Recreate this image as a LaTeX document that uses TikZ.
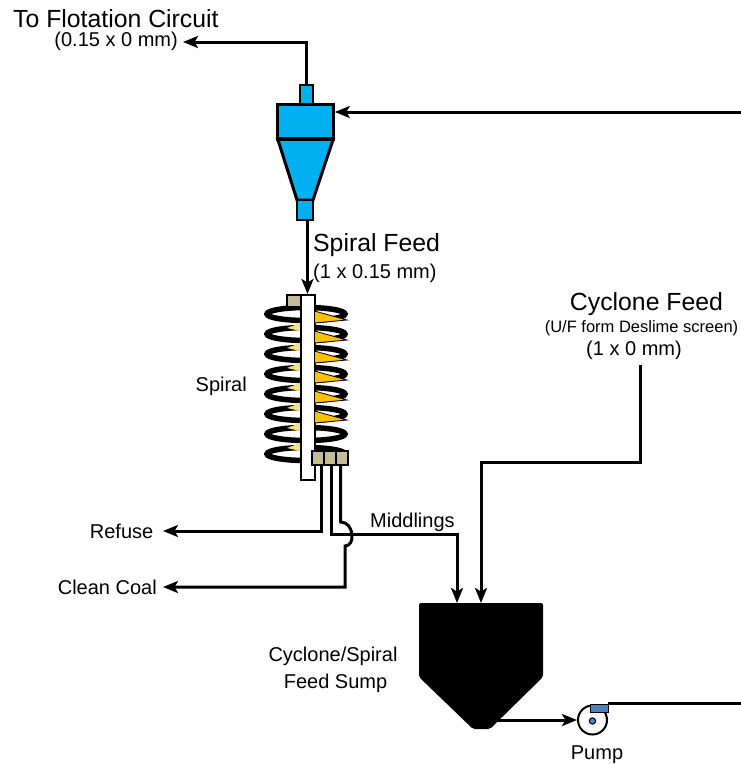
\documentclass[tikz,border=0pt]{standalone}
\usepackage{fontspec}
\setmainfont{Liberation Sans}
\usetikzlibrary{arrows.meta,calc}
\definecolor{cyc}{HTML}{00B0F0}
\definecolor{portfill}{HTML}{C4BB9A}
\definecolor{gold}{HTML}{FFC000}
\definecolor{paleyel}{HTML}{F7E27A}
\definecolor{pumpblue}{HTML}{4F81BD}
\tikzset{
  flow/.style={line width=3pt, -{Stealth[length=15pt,width=12pt,inset=3.5pt]}},
  pipe/.style={line width=3pt},
  unit/.style={draw=black, line width=3pt, fill=cyc, inner sep=0pt, outer sep=0pt},
  portbox/.style={draw=black, line width=2pt, fill=portfill, inner sep=0pt, outer sep=0pt},
  coil/.style={draw=black, line width=5.5pt},
  wedge/.style={fill=gold, draw=black, line width=0.8pt},
  backwedge/.style={fill=paleyel},
  big/.style={font=\fontsize{24.8}{29}\selectfont, inner sep=0pt},
  mid/.style={font=\fontsize{20}{24}\selectfont, inner sep=0pt},
  small/.style={font=\fontsize{16.5}{20}\selectfont, inner sep=0pt},
}
\begin{document}
\begin{tikzpicture}[x=1pt, y=-1pt]
\useasboundingbox (0,0) rectangle (740,764);
\fill[white] (0,0) rectangle (740,764);

% ---- hydrocyclone ----
\node[unit, line width=2pt, minimum width=13pt, minimum height=19pt] (vortex) at (306,94.5) {};
\node[unit, minimum width=55.6pt, minimum height=35pt] (cylinder) at (305.5,121.5) {};
\filldraw[fill=cyc, draw=black, line width=3pt] (277.7,139) -- (333.3,139) -- (313,200) -- (297,200) -- cycle;
\draw[line width=4.5pt] (277.7,139) -- (333.3,139);
\node[unit, line width=2pt, minimum width=15.5pt, minimum height=20pt] (apex) at (305,210) {};

% ---- spiral ----
\foreach \k in {0,...,7}{
  \pgfmathsetmacro{\yy}{314+20*\k}
  \draw[coil] (306,\yy) ellipse [x radius=39pt, y radius=6.5pt];
}
\foreach \k in {0,...,6}{
  \pgfmathsetmacro{\yy}{314+20*\k}
  \fill[backwedge] (287,\yy+14) -- (300.5,\yy+9) -- (300.5,\yy+17) -- cycle;
}
\node[draw=black, line width=2pt, fill=white, inner sep=0pt, minimum width=14pt, minimum height=185pt] (column) at (307.5,387.5) {};
\foreach \k in {0,...,5}{
  \pgfmathsetmacro{\yy}{314+20*\k}
  \filldraw[wedge] (314.5,\yy-3) -- (347,\yy+6) -- (314.5,\yy+9) -- cycle;
}
\node[portbox, minimum width=13.5pt, minimum height=12pt] (feedbox) at (293.8,301) {};
\node[portbox, minimum width=11.7pt, minimum height=14pt] (p1) at (318.3,458) {};
\node[portbox, minimum width=11.7pt, minimum height=14pt] (p2) at (330,458) {};
\node[portbox, minimum width=11.7pt, minimum height=14pt] (p3) at (341.7,458) {};
\foreach \n in {p1,p2}{ \fill[gold] (\n.center) ++(0,3) circle (1.2pt); }

% ---- cyclone / spiral feed sump ----
\fill[black, rounded corners=2pt] (419,603) -- (543,603) -- (543,677) -- (490,729) -- (473,729) -- (419,677) -- cycle;

% ---- pump ----
\node[draw=black, line width=2pt, fill=white, circle, inner sep=0pt, minimum size=29pt] (pump) at (592.5,720) {};
\node[draw=black, line width=0.8pt, fill=pumpblue, inner sep=0pt, minimum width=18pt, minimum height=8pt] (pumpout) at (599,708) {};
\node[draw=black, line width=1pt, fill=pumpblue, circle, inner sep=0pt, minimum size=6.4pt] (impeller) at (592.5,721) {};

% ---- stream end points ----
\coordinate (flotend) at (183,42);
\coordinate (feedsrc) at (741,112);
\coordinate (refuseend) at (163,531);
\coordinate (cleanend) at (163,587);
\coordinate (midcorner) at (457,534);
\coordinate (midin) at (457,603);
\coordinate (hopA) at (340.7,522);
\coordinate (hopB) at (345,546);
\coordinate (cfsrc) at (640,365);
\coordinate (cfcorner) at (481,462);
\coordinate (cfin) at (481,603);
\coordinate (sumpout) at (496,720);
\coordinate (rightedge) at (741,704);

% ---- streams ----
\draw[flow] (vortex.north) |- (flotend);
\draw[flow] (feedsrc) -- ($(feedsrc -| cylinder.east)+(1.5,0)$);
\draw[flow] (apex.south -| column.north) -- (column.north);
\draw[flow] ([xshift=3pt]p1.south) |- (refuseend);
\draw[flow] ([xshift=1.5pt]p2.south) |- (midcorner) -- (midin);
\draw[flow] (hopA |- p3.south) -- (hopA) .. controls (354,522) and (356,546) .. (hopB) -- (hopB |- cleanend) -- (cleanend);
\draw[flow] (cfsrc) |- (cfcorner) -- (cfin);
\draw[flow] (sumpout) -- (pump.west);
\draw[pipe] (pumpout.north east) -- (pumpout.north east -| rightedge);

% ---- labels ----
\node[big, anchor=base west] (tflot) at (13,27) {To Flotation Circuit};
\node[mid, anchor=base east] (tflotsz) at (178,46.7) {(0.15 x 0 mm)};
\node[big, anchor=base west] (tsf) at (313,251.7) {Spiral Feed};
\node[mid, anchor=base west] (tsfsz) at (313,278) {(1 x 0.15 mm)};
\node[big, anchor=base] (tcf) at (646.5,310) {Cyclone Feed};
\node[small, anchor=base] (tcfsrc) at (641.5,332) {(U/F form Deslime screen)};
\node[mid, anchor=base] (tcfsz) at (634,355) {(1 x 0 mm)};
\node[mid, anchor=base east] (tspiral) at (247,391.7) {Spiral};
\node[mid, anchor=base east] (trefuse) at (153.5,538) {Refuse};
\node[mid, anchor=base east] (tclean) at (157,594) {Clean Coal};
\node[mid, anchor=base west] (tmid) at (370,527) {Middlings};
\node[mid, anchor=base] (tsump1) at (333,661.5) {Cyclone/Spiral};
\node[mid, anchor=base] (tsump2) at (335.5,688.5) {Feed Sump};
\node[mid, anchor=base] (tpump) at (597,759.3) {Pump};
\end{tikzpicture}
\end{document}
